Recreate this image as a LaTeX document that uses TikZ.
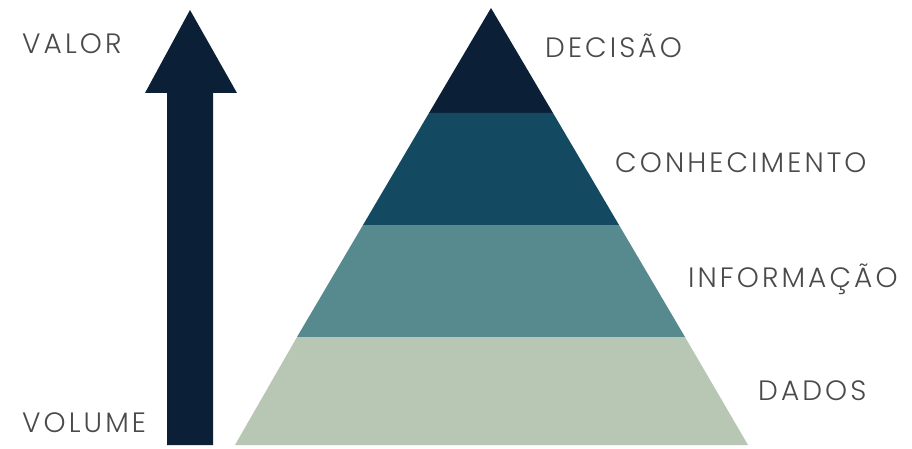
\documentclass[tikz,border=0pt]{standalone}
\usepackage{fontspec}
\setmainfont{Poppins}[UprightFont=* Light,LetterSpace=11]
\definecolor{navy}{HTML}{0B2037}
\definecolor{teal1}{HTML}{134A62}
\definecolor{teal2}{HTML}{578A8E}
\definecolor{sage}{HTML}{B7C7B4}
\definecolor{txt}{HTML}{4A4A4A}
\begin{document}
\begin{tikzpicture}[x=1pt,y=-1pt,
  lbl/.style={anchor=base west,inner sep=0pt,text=txt,font=\fontsize{28}{28}\selectfont}]
\useasboundingbox[fill=white] (0,0) rectangle (912,449);
% arrow
\fill[navy] (167,445) -- (167,93) -- (145,93) -- (190,10) -- (237,93) -- (213,93) -- (213,445) -- cycle;
% pyramid bands
\fill[navy]  (491,8) -- (553,113) -- (429,113) -- cycle;
\fill[teal1] (429,113) -- (553,113) -- (619,225) -- (363,225) -- cycle;
\fill[teal2] (363,225) -- (619,225) -- (685,337) -- (297,337) -- cycle;
\fill[sage]  (297,337) -- (685,337) -- (748,445) -- (235,445) -- cycle;
% labels
\node[lbl] (valor) at (22,54) {VALOR};
\node[lbl] (volume) at (22,432) {VOLUME};
\node[lbl] (decisao) at (545,58) {DECISÃO};
\node[lbl] (conhec) at (615,173) {CONHECIMENTO};
\node[lbl] (inform) at (688,287) {INFORMAÇÃO};
\node[lbl] (dados) at (758,400) {DADOS};
\end{tikzpicture}
\end{document}
